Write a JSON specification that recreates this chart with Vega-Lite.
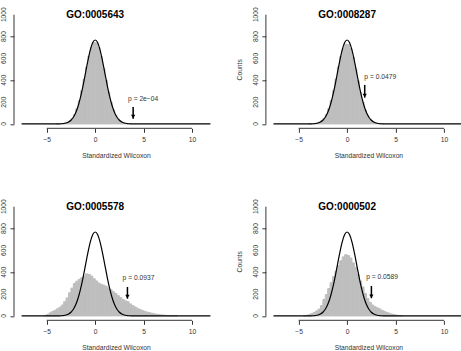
{
"$schema": "https://vega.github.io/schema/vega-lite/v6.json",
"usermeta": {"embedOptions": {"actions": false}},
"background": "white",
"padding": {"left": 0, "top": 6.3, "right": 0, "bottom": 0},
"config": {"view": {"stroke": null}, "font": "Liberation Sans",
  "axis": {"grid": false, "domain": false, "tickColor": "#333", "tickSize": 4, "labelColor": "#333", "labelFont": "Liberation Sans", "labelFontSize": 6.7, "titleFont": "Liberation Sans", "titleFontSize": 6.7, "titleFontWeight": "normal", "titleColor": "#333", "labelFlush": false}},
"datasets": {
 "yticks": [{"v":0},{"v":200},{"v":400},{"v":600},{"v":800},{"v":1000}],
 "curve": [{"x":-7.6,"y":0},{"x":-4.5,"y":0},{"x":-4.25,"y":0.1},{"x":-4,"y":0.3},{"x":-3.75,"y":0.7},{"x":-3.5,"y":1.7},{"x":-3.25,"y":3.9},{"x":-3,"y":8.5},{"x":-2.75,"y":17.5},{"x":-2.5,"y":33.7},{"x":-2.25,"y":61.1},{"x":-2,"y":103.9},{"x":-1.75,"y":166.1},{"x":-1.5,"y":249.4},{"x":-1.25,"y":351.6},{"x":-1,"y":465.8},{"x":-0.75,"y":579.7},{"x":-0.5,"y":677.7},{"x":-0.25,"y":744.4},{"x":0,"y":768},{"x":0.25,"y":744.4},{"x":0.5,"y":677.7},{"x":0.75,"y":579.7},{"x":1,"y":465.8},{"x":1.25,"y":351.6},{"x":1.5,"y":249.4},{"x":1.75,"y":166.1},{"x":2,"y":103.9},{"x":2.25,"y":61.1},{"x":2.5,"y":33.7},{"x":2.75,"y":17.5},{"x":3,"y":8.5},{"x":3.25,"y":3.9},{"x":3.5,"y":1.7},{"x":3.75,"y":0.7},{"x":4,"y":0.3},{"x":4.25,"y":0.1},{"x":4.5,"y":0},{"x":11.9,"y":0}],
 "ann": [
  {"p":"A","title":"GO:0005643","label":"p = 2e−04","tx":4.95,"ty":231,"ax":3.92,"a1":156,"a2":48},
  {"p":"B","title":"GO:0008287","label":"p = 0.0479","tx":3.42,"ty":433,"ax":1.82,"a1":357,"a2":241},
  {"p":"C","title":"GO:0005578","label":"p = 0.0937","tx":4.47,"ty":350,"ax":3.33,"a1":265,"a2":158},
  {"p":"D","title":"GO:0000502","label":"p = 0.0589","tx":3.61,"ty":360,"ax":2.51,"a1":274,"a2":162}
 ],
 "hist": [
  {"p":"A","a":-4,"b":-3.75,"n":1},{"p":"A","a":-3.75,"b":-3.5,"n":2},{"p":"A","a":-3.5,"b":-3.25,"n":4},{"p":"A","a":-3.25,"b":-3,"n":8},{"p":"A","a":-3,"b":-2.75,"n":15},{"p":"A","a":-2.75,"b":-2.5,"n":27},{"p":"A","a":-2.5,"b":-2.25,"n":48},{"p":"A","a":-2.25,"b":-2,"n":84},{"p":"A","a":-2,"b":-1.75,"n":138},{"p":"A","a":-1.75,"b":-1.5,"n":212},{"p":"A","a":-1.5,"b":-1.25,"n":305},{"p":"A","a":-1.25,"b":-1,"n":410},{"p":"A","a":-1,"b":-0.75,"n":520},{"p":"A","a":-0.75,"b":-0.5,"n":622},{"p":"A","a":-0.5,"b":-0.25,"n":700},{"p":"A","a":-0.25,"b":0,"n":745},{"p":"A","a":0,"b":0.25,"n":740},{"p":"A","a":0.25,"b":0.5,"n":700},{"p":"A","a":0.5,"b":0.75,"n":615},{"p":"A","a":0.75,"b":1,"n":510},{"p":"A","a":1,"b":1.25,"n":400},{"p":"A","a":1.25,"b":1.5,"n":292},{"p":"A","a":1.5,"b":1.75,"n":200},{"p":"A","a":1.75,"b":2,"n":128},{"p":"A","a":2,"b":2.25,"n":78},{"p":"A","a":2.25,"b":2.5,"n":44},{"p":"A","a":2.5,"b":2.75,"n":24},{"p":"A","a":2.75,"b":3,"n":12},{"p":"A","a":3,"b":3.25,"n":6},{"p":"A","a":3.25,"b":3.5,"n":3},{"p":"A","a":3.5,"b":3.75,"n":1},
  {"p":"B","a":-4,"b":-3.75,"n":1},{"p":"B","a":-3.75,"b":-3.5,"n":2},{"p":"B","a":-3.5,"b":-3.25,"n":4},{"p":"B","a":-3.25,"b":-3,"n":8},{"p":"B","a":-3,"b":-2.75,"n":15},{"p":"B","a":-2.75,"b":-2.5,"n":28},{"p":"B","a":-2.5,"b":-2.25,"n":50},{"p":"B","a":-2.25,"b":-2,"n":86},{"p":"B","a":-2,"b":-1.75,"n":140},{"p":"B","a":-1.75,"b":-1.5,"n":215},{"p":"B","a":-1.5,"b":-1.25,"n":308},{"p":"B","a":-1.25,"b":-1,"n":412},{"p":"B","a":-1,"b":-0.75,"n":522},{"p":"B","a":-0.75,"b":-0.5,"n":620},{"p":"B","a":-0.5,"b":-0.25,"n":695},{"p":"B","a":-0.25,"b":0,"n":730},{"p":"B","a":0,"b":0.25,"n":725},{"p":"B","a":0.25,"b":0.5,"n":690},{"p":"B","a":0.5,"b":0.75,"n":610},{"p":"B","a":0.75,"b":1,"n":505},{"p":"B","a":1,"b":1.25,"n":395},{"p":"B","a":1.25,"b":1.5,"n":288},{"p":"B","a":1.5,"b":1.75,"n":198},{"p":"B","a":1.75,"b":2,"n":126},{"p":"B","a":2,"b":2.25,"n":76},{"p":"B","a":2.25,"b":2.5,"n":43},{"p":"B","a":2.5,"b":2.75,"n":23},{"p":"B","a":2.75,"b":3,"n":11},{"p":"B","a":3,"b":3.25,"n":5},{"p":"B","a":3.25,"b":3.5,"n":2},{"p":"B","a":3.5,"b":3.75,"n":1},
  {"p":"C","a":-5.25,"b":-5,"n":5},{"p":"C","a":-5,"b":-4.75,"n":15},{"p":"C","a":-4.75,"b":-4.5,"n":28},{"p":"C","a":-4.5,"b":-4.25,"n":40},{"p":"C","a":-4.25,"b":-4,"n":52},{"p":"C","a":-4,"b":-3.75,"n":65},{"p":"C","a":-3.75,"b":-3.5,"n":80},{"p":"C","a":-3.5,"b":-3.25,"n":100},{"p":"C","a":-3.25,"b":-3,"n":130},{"p":"C","a":-3,"b":-2.75,"n":165},{"p":"C","a":-2.75,"b":-2.5,"n":212},{"p":"C","a":-2.5,"b":-2.25,"n":255},{"p":"C","a":-2.25,"b":-2,"n":298},{"p":"C","a":-2,"b":-1.75,"n":318},{"p":"C","a":-1.75,"b":-1.5,"n":335},{"p":"C","a":-1.5,"b":-1.25,"n":350},{"p":"C","a":-1.25,"b":-1,"n":365},{"p":"C","a":-1,"b":-0.75,"n":385},{"p":"C","a":-0.75,"b":-0.5,"n":380},{"p":"C","a":-0.5,"b":-0.25,"n":365},{"p":"C","a":-0.25,"b":0,"n":340},{"p":"C","a":0,"b":0.25,"n":320},{"p":"C","a":0.25,"b":0.5,"n":300},{"p":"C","a":0.5,"b":0.75,"n":290},{"p":"C","a":0.75,"b":1,"n":282},{"p":"C","a":1,"b":1.25,"n":272},{"p":"C","a":1.25,"b":1.5,"n":255},{"p":"C","a":1.5,"b":1.75,"n":240},{"p":"C","a":1.75,"b":2,"n":222},{"p":"C","a":2,"b":2.25,"n":205},{"p":"C","a":2.25,"b":2.5,"n":185},{"p":"C","a":2.5,"b":2.75,"n":168},{"p":"C","a":2.75,"b":3,"n":150},{"p":"C","a":3,"b":3.25,"n":138},{"p":"C","a":3.25,"b":3.5,"n":130},{"p":"C","a":3.5,"b":3.75,"n":110},{"p":"C","a":3.75,"b":4,"n":95},{"p":"C","a":4,"b":4.25,"n":82},{"p":"C","a":4.25,"b":4.5,"n":70},{"p":"C","a":4.5,"b":4.75,"n":60},{"p":"C","a":4.75,"b":5,"n":50},{"p":"C","a":5,"b":5.25,"n":42},{"p":"C","a":5.25,"b":5.5,"n":35},{"p":"C","a":5.5,"b":5.75,"n":30},{"p":"C","a":5.75,"b":6,"n":24},{"p":"C","a":6,"b":6.25,"n":19},{"p":"C","a":6.25,"b":6.5,"n":15},{"p":"C","a":6.5,"b":6.75,"n":12},{"p":"C","a":6.75,"b":7,"n":9},{"p":"C","a":7,"b":7.25,"n":7},{"p":"C","a":7.25,"b":7.5,"n":5},{"p":"C","a":7.5,"b":7.75,"n":4},{"p":"C","a":7.75,"b":8,"n":3},{"p":"C","a":8,"b":8.25,"n":2},{"p":"C","a":8.25,"b":8.5,"n":1},
  {"p":"D","a":-4.5,"b":-4.25,"n":3},{"p":"D","a":-4.25,"b":-4,"n":6},{"p":"D","a":-4,"b":-3.75,"n":12},{"p":"D","a":-3.75,"b":-3.5,"n":22},{"p":"D","a":-3.5,"b":-3.25,"n":32},{"p":"D","a":-3.25,"b":-3,"n":45},{"p":"D","a":-3,"b":-2.75,"n":62},{"p":"D","a":-2.75,"b":-2.5,"n":95},{"p":"D","a":-2.5,"b":-2.25,"n":150},{"p":"D","a":-2.25,"b":-2,"n":195},{"p":"D","a":-2,"b":-1.75,"n":250},{"p":"D","a":-1.75,"b":-1.5,"n":305},{"p":"D","a":-1.5,"b":-1.25,"n":360},{"p":"D","a":-1.25,"b":-1,"n":410},{"p":"D","a":-1,"b":-0.75,"n":460},{"p":"D","a":-0.75,"b":-0.5,"n":505},{"p":"D","a":-0.5,"b":-0.25,"n":540},{"p":"D","a":-0.25,"b":0,"n":560},{"p":"D","a":0,"b":0.25,"n":552},{"p":"D","a":0.25,"b":0.5,"n":530},{"p":"D","a":0.5,"b":0.75,"n":485},{"p":"D","a":0.75,"b":1,"n":445},{"p":"D","a":1,"b":1.25,"n":380},{"p":"D","a":1.25,"b":1.5,"n":320},{"p":"D","a":1.5,"b":1.75,"n":265},{"p":"D","a":1.75,"b":2,"n":205},{"p":"D","a":2,"b":2.25,"n":160},{"p":"D","a":2.25,"b":2.5,"n":125},{"p":"D","a":2.5,"b":2.75,"n":100},{"p":"D","a":2.75,"b":3,"n":85},{"p":"D","a":3,"b":3.25,"n":74},{"p":"D","a":3.25,"b":3.5,"n":64},{"p":"D","a":3.5,"b":3.75,"n":50},{"p":"D","a":3.75,"b":4,"n":40},{"p":"D","a":4,"b":4.25,"n":32},{"p":"D","a":4.25,"b":4.5,"n":24},{"p":"D","a":4.5,"b":4.75,"n":17},{"p":"D","a":4.75,"b":5,"n":12},{"p":"D","a":5,"b":5.25,"n":7},{"p":"D","a":5.25,"b":5.5,"n":4},{"p":"D","a":5.5,"b":5.75,"n":2}
 ]
},
"columns": 2,
"spacing": {"row": 74, "column": 47.9},
"bounds": "flush",
"concat": [
 {"width": 204, "height": 118, "layer": [
  {"data": {"name": "hist"}, "transform": [{"filter": "datum.p === 'A'"}], "mark": {"type": "rect", "color": "#bebebe", "stroke": "#bebebe", "strokeWidth": 1},
   "encoding": {"x": {"field": "a", "type": "quantitative", "scale": {"domain": [-8.38, 12.68], "nice": false, "zero": false}, "axis": {"values": [-5, 0, 5, 10], "labelPadding": 4, "titlePadding": 9.5}, "title": "Standardized Wilcoxon"},
    "x2": {"field": "b"},
    "y": {"field": "n", "type": "quantitative", "scale": {"domain": [-40, 1040], "nice": false, "zero": false}, "axis": {"values": [0, 200, 400, 600, 800, 1000], "labels": false}, "title": null},
    "y2": {"datum": 0}}},
  {"data": {"name": "curve"}, "mark": {"type": "line", "color": "black", "strokeWidth": 1.2, "interpolate": "monotone", "clip": true}, "encoding": {"x": {"field": "x", "type": "quantitative"}, "y": {"field": "y", "type": "quantitative"}}},
  {"data": {"values": [{}]}, "mark": {"type": "rule", "color": "#333"}, "encoding": {"x": {"datum": -5}, "x2": {"datum": 10}, "y": {"datum": -40}}},
  {"data": {"values": [{}]}, "mark": {"type": "rule", "color": "#333"}, "encoding": {"x": {"datum": -8.38}, "y": {"datum": 0}, "y2": {"datum": 1000}}},
  {"data": {"name": "yticks"}, "mark": {"type": "text", "angle": 270, "align": "center", "baseline": "middle", "dy": -10.3, "fontSize": 6.7, "color": "#333"}, "encoding": {"x": {"datum": -8.38}, "y": {"field": "v", "type": "quantitative"}, "text": {"field": "v", "type": "quantitative", "format": "d"}}},
  {"data": {"name": "ann"}, "transform": [{"filter": "datum.p === 'A'"}], "mark": {"type": "text", "fontWeight": "bold", "fontSize": 10, "baseline": "middle", "align": "center", "color": "black"}, "encoding": {"x": {"datum": 0}, "y": {"datum": 1000}, "text": {"field": "title"}}},
  {"data": {"name": "ann"}, "transform": [{"filter": "datum.p === 'A'"}], "mark": {"type": "rule", "color": "black", "strokeWidth": 1.5}, "encoding": {"x": {"field": "ax", "type": "quantitative"}, "y": {"field": "a1", "type": "quantitative"}, "y2": {"field": "a2"}}},
  {"data": {"name": "ann"}, "transform": [{"filter": "datum.p === 'A'"}], "mark": {"type": "point", "shape": "triangle-down", "filled": true, "color": "black", "size": 18, "opacity": 1, "yOffset": -2}, "encoding": {"x": {"field": "ax", "type": "quantitative"}, "y": {"field": "a2", "type": "quantitative"}}},
  {"data": {"name": "ann"}, "transform": [{"filter": "datum.p === 'A'"}], "mark": {"type": "text", "fontSize": 6.7, "color": "#333", "baseline": "middle", "align": "center"}, "encoding": {"x": {"field": "tx", "type": "quantitative"}, "y": {"field": "ty", "type": "quantitative"}, "text": {"field": "label"}}}
 ]},
 {"width": 195.5, "height": 118, "layer": [
  {"data": {"name": "hist"}, "transform": [{"filter": "datum.p === 'B'"}], "mark": {"type": "rect", "color": "#bebebe", "stroke": "#bebebe", "strokeWidth": 1},
   "encoding": {"x": {"field": "a", "type": "quantitative", "scale": {"domain": [-8.38, 11.8], "nice": false, "zero": false}, "axis": {"values": [-5, 0, 5, 10], "labelPadding": 4, "titlePadding": 9.5, "titleX": 102.5}, "title": "Standardized Wilcoxon"},
    "x2": {"field": "b"},
    "y": {"field": "n", "type": "quantitative", "scale": {"domain": [-40, 1040], "nice": false, "zero": false}, "axis": {"values": [0, 200, 400, 600, 800, 1000], "labels": false, "titlePadding": 18.5}, "title": "Counts"},
    "y2": {"datum": 0}}},
  {"data": {"name": "curve"}, "mark": {"type": "line", "color": "black", "strokeWidth": 1.2, "interpolate": "monotone", "clip": true}, "encoding": {"x": {"field": "x", "type": "quantitative"}, "y": {"field": "y", "type": "quantitative"}}},
  {"data": {"values": [{}]}, "mark": {"type": "rule", "color": "#333"}, "encoding": {"x": {"datum": -5}, "x2": {"datum": 10}, "y": {"datum": -40}}},
  {"data": {"values": [{}]}, "mark": {"type": "rule", "color": "#333"}, "encoding": {"x": {"datum": -8.38}, "y": {"datum": 0}, "y2": {"datum": 1000}}},
  {"data": {"name": "yticks"}, "mark": {"type": "text", "angle": 270, "align": "center", "baseline": "middle", "dy": -10.3, "fontSize": 6.7, "color": "#333"}, "encoding": {"x": {"datum": -8.38}, "y": {"field": "v", "type": "quantitative"}, "text": {"field": "v", "type": "quantitative", "format": "d"}}},
  {"data": {"name": "ann"}, "transform": [{"filter": "datum.p === 'B'"}], "mark": {"type": "text", "fontWeight": "bold", "fontSize": 10, "baseline": "middle", "align": "center", "color": "black"}, "encoding": {"x": {"datum": 0}, "y": {"datum": 1000}, "text": {"field": "title"}}},
  {"data": {"name": "ann"}, "transform": [{"filter": "datum.p === 'B'"}], "mark": {"type": "rule", "color": "black", "strokeWidth": 1.5}, "encoding": {"x": {"field": "ax", "type": "quantitative"}, "y": {"field": "a1", "type": "quantitative"}, "y2": {"field": "a2"}}},
  {"data": {"name": "ann"}, "transform": [{"filter": "datum.p === 'B'"}], "mark": {"type": "point", "shape": "triangle-down", "filled": true, "color": "black", "size": 18, "opacity": 1, "yOffset": -2}, "encoding": {"x": {"field": "ax", "type": "quantitative"}, "y": {"field": "a2", "type": "quantitative"}}},
  {"data": {"name": "ann"}, "transform": [{"filter": "datum.p === 'B'"}], "mark": {"type": "text", "fontSize": 6.7, "color": "#333", "baseline": "middle", "align": "center"}, "encoding": {"x": {"field": "tx", "type": "quantitative"}, "y": {"field": "ty", "type": "quantitative"}, "text": {"field": "label"}}}
 ]},
 {"width": 204, "height": 118, "layer": [
  {"data": {"name": "hist"}, "transform": [{"filter": "datum.p === 'C'"}], "mark": {"type": "rect", "color": "#bebebe", "stroke": "#bebebe", "strokeWidth": 1},
   "encoding": {"x": {"field": "a", "type": "quantitative", "scale": {"domain": [-8.38, 12.68], "nice": false, "zero": false}, "axis": {"values": [-5, 0, 5, 10], "labelPadding": 4, "titlePadding": 9.5}, "title": "Standardized Wilcoxon"},
    "x2": {"field": "b"},
    "y": {"field": "n", "type": "quantitative", "scale": {"domain": [-40, 1040], "nice": false, "zero": false}, "axis": {"values": [0, 200, 400, 600, 800, 1000], "labels": false}, "title": null},
    "y2": {"datum": 0}}},
  {"data": {"name": "curve"}, "mark": {"type": "line", "color": "black", "strokeWidth": 1.2, "interpolate": "monotone", "clip": true}, "encoding": {"x": {"field": "x", "type": "quantitative"}, "y": {"field": "y", "type": "quantitative"}}},
  {"data": {"values": [{}]}, "mark": {"type": "rule", "color": "#333"}, "encoding": {"x": {"datum": -5}, "x2": {"datum": 10}, "y": {"datum": -40}}},
  {"data": {"values": [{}]}, "mark": {"type": "rule", "color": "#333"}, "encoding": {"x": {"datum": -8.38}, "y": {"datum": 0}, "y2": {"datum": 1000}}},
  {"data": {"name": "yticks"}, "mark": {"type": "text", "angle": 270, "align": "center", "baseline": "middle", "dy": -10.3, "fontSize": 6.7, "color": "#333"}, "encoding": {"x": {"datum": -8.38}, "y": {"field": "v", "type": "quantitative"}, "text": {"field": "v", "type": "quantitative", "format": "d"}}},
  {"data": {"name": "ann"}, "transform": [{"filter": "datum.p === 'C'"}], "mark": {"type": "text", "fontWeight": "bold", "fontSize": 10, "baseline": "middle", "align": "center", "color": "black"}, "encoding": {"x": {"datum": 0}, "y": {"datum": 1000}, "text": {"field": "title"}}},
  {"data": {"name": "ann"}, "transform": [{"filter": "datum.p === 'C'"}], "mark": {"type": "rule", "color": "black", "strokeWidth": 1.5}, "encoding": {"x": {"field": "ax", "type": "quantitative"}, "y": {"field": "a1", "type": "quantitative"}, "y2": {"field": "a2"}}},
  {"data": {"name": "ann"}, "transform": [{"filter": "datum.p === 'C'"}], "mark": {"type": "point", "shape": "triangle-down", "filled": true, "color": "black", "size": 18, "opacity": 1, "yOffset": -2}, "encoding": {"x": {"field": "ax", "type": "quantitative"}, "y": {"field": "a2", "type": "quantitative"}}},
  {"data": {"name": "ann"}, "transform": [{"filter": "datum.p === 'C'"}], "mark": {"type": "text", "fontSize": 6.7, "color": "#333", "baseline": "middle", "align": "center"}, "encoding": {"x": {"field": "tx", "type": "quantitative"}, "y": {"field": "ty", "type": "quantitative"}, "text": {"field": "label"}}}
 ]},
 {"width": 195.5, "height": 118, "layer": [
  {"data": {"name": "hist"}, "transform": [{"filter": "datum.p === 'D'"}], "mark": {"type": "rect", "color": "#bebebe", "stroke": "#bebebe", "strokeWidth": 1},
   "encoding": {"x": {"field": "a", "type": "quantitative", "scale": {"domain": [-8.38, 11.8], "nice": false, "zero": false}, "axis": {"values": [-5, 0, 5, 10], "labelPadding": 4, "titlePadding": 9.5, "titleX": 102.5}, "title": "Standardized Wilcoxon"},
    "x2": {"field": "b"},
    "y": {"field": "n", "type": "quantitative", "scale": {"domain": [-40, 1040], "nice": false, "zero": false}, "axis": {"values": [0, 200, 400, 600, 800, 1000], "labels": false, "titlePadding": 18.5}, "title": "Counts"},
    "y2": {"datum": 0}}},
  {"data": {"name": "curve"}, "mark": {"type": "line", "color": "black", "strokeWidth": 1.2, "interpolate": "monotone", "clip": true}, "encoding": {"x": {"field": "x", "type": "quantitative"}, "y": {"field": "y", "type": "quantitative"}}},
  {"data": {"values": [{}]}, "mark": {"type": "rule", "color": "#333"}, "encoding": {"x": {"datum": -5}, "x2": {"datum": 10}, "y": {"datum": -40}}},
  {"data": {"values": [{}]}, "mark": {"type": "rule", "color": "#333"}, "encoding": {"x": {"datum": -8.38}, "y": {"datum": 0}, "y2": {"datum": 1000}}},
  {"data": {"name": "yticks"}, "mark": {"type": "text", "angle": 270, "align": "center", "baseline": "middle", "dy": -10.3, "fontSize": 6.7, "color": "#333"}, "encoding": {"x": {"datum": -8.38}, "y": {"field": "v", "type": "quantitative"}, "text": {"field": "v", "type": "quantitative", "format": "d"}}},
  {"data": {"name": "ann"}, "transform": [{"filter": "datum.p === 'D'"}], "mark": {"type": "text", "fontWeight": "bold", "fontSize": 10, "baseline": "middle", "align": "center", "color": "black"}, "encoding": {"x": {"datum": 0}, "y": {"datum": 1000}, "text": {"field": "title"}}},
  {"data": {"name": "ann"}, "transform": [{"filter": "datum.p === 'D'"}], "mark": {"type": "rule", "color": "black", "strokeWidth": 1.5}, "encoding": {"x": {"field": "ax", "type": "quantitative"}, "y": {"field": "a1", "type": "quantitative"}, "y2": {"field": "a2"}}},
  {"data": {"name": "ann"}, "transform": [{"filter": "datum.p === 'D'"}], "mark": {"type": "point", "shape": "triangle-down", "filled": true, "color": "black", "size": 18, "opacity": 1, "yOffset": -2}, "encoding": {"x": {"field": "ax", "type": "quantitative"}, "y": {"field": "a2", "type": "quantitative"}}},
  {"data": {"name": "ann"}, "transform": [{"filter": "datum.p === 'D'"}], "mark": {"type": "text", "fontSize": 6.7, "color": "#333", "baseline": "middle", "align": "center"}, "encoding": {"x": {"field": "tx", "type": "quantitative"}, "y": {"field": "ty", "type": "quantitative"}, "text": {"field": "label"}}}
 ]}
]
}
